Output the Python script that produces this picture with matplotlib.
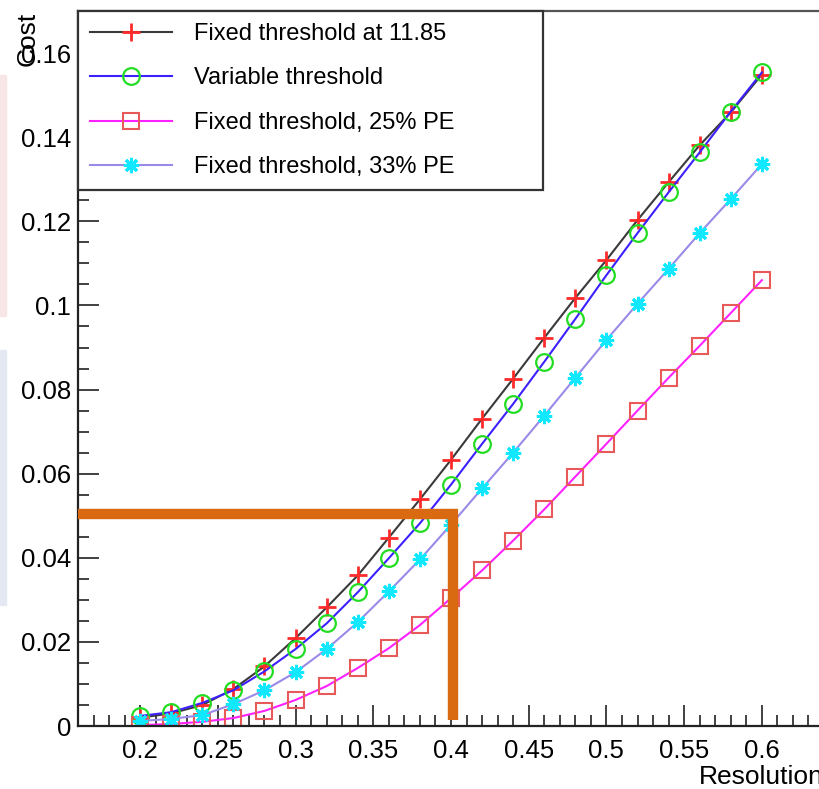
import matplotlib
matplotlib.use("Agg")
import matplotlib.pyplot as plt
from matplotlib.patches import Rectangle
from matplotlib.ticker import MultipleLocator, FuncFormatter

plt.rcParams['font.family'] = ['Liberation Sans', 'DejaVu Sans']

# values
resolution = [0.20, 0.22, 0.24, 0.26, 0.28, 0.30, 0.32, 0.34, 0.36, 0.38, 0.40,
              0.42, 0.44, 0.46, 0.48, 0.50, 0.52, 0.54, 0.56, 0.58, 0.60]
cost_fixed_1185 = [0.0020, 0.0030, 0.0050, 0.0088, 0.0142, 0.0209, 0.0282, 0.0358,
                   0.0448, 0.0539, 0.0633, 0.0731, 0.0826, 0.0923, 0.1018, 0.1108,
                   0.1203, 0.1293, 0.1381, 0.1459, 0.1549]
cost_variable = [0.0024, 0.0033, 0.0055, 0.0085, 0.0130, 0.0183, 0.0244, 0.0318,
                 0.0399, 0.0482, 0.0574, 0.0671, 0.0766, 0.0866, 0.0968, 0.1072,
                 0.1172, 0.1269, 0.1364, 0.1461, 0.1554]
cost_fixed_25pe = [0.0002, 0.0005, 0.0010, 0.0019, 0.0036, 0.0062, 0.0095, 0.0138,
                   0.0185, 0.0240, 0.0304, 0.0370, 0.0441, 0.0515, 0.0593, 0.0671,
                   0.0750, 0.0828, 0.0904, 0.0982, 0.1060]
cost_fixed_33pe = [0.0012, 0.0017, 0.0026, 0.0052, 0.0085, 0.0128, 0.0183, 0.0247,
                   0.0320, 0.0396, 0.0479, 0.0565, 0.0650, 0.0738, 0.0828, 0.0918,
                   0.1004, 0.1087, 0.1172, 0.1253, 0.1336]
labels = ['Fixed threshold at 11.85', 'Variable threshold',
          'Fixed threshold, 25% PE', 'Fixed threshold, 33% PE']
target_cost = 0.0503
target_resolution = 0.401
guide_bottom = 0.0015

fig = plt.figure(figsize=(8.2, 7.89), dpi=100)
# faint slide background showing at the left edge
fig.patches.append(Rectangle((0, 0.60), 0.007, 0.305, transform=fig.transFigure,
                             color='#f8e6e6', zorder=0))
fig.patches.append(Rectangle((0, 0.233), 0.007, 0.323, transform=fig.transFigure,
                             color='#e3e8f2', zorder=0))

ax = fig.add_axes([0.0951, 0.0798, 0.9098, 0.9062])

ax.plot(resolution, cost_fixed_1185, color='#3a3a3a', lw=1.5, marker='+', ms=13,
        mew=2, mec='#ff2a2a', label=labels[0])
ax.plot(resolution, cost_variable, color='#3c20ff', lw=1.5, marker='o', ms=12,
        mew=1.6, mec='#22dd22', mfc='none', label=labels[1])
ax.plot(resolution, cost_fixed_25pe, color='#ff22ff', lw=1.5, marker='s', ms=11,
        mew=1.5, mec='#e85a5a', mfc='none', label=labels[2])
ax.plot(resolution, cost_fixed_33pe, color='#9a8ae8', lw=1.5, marker=(8, 2, 0), ms=11,
        mew=2.2, mec='#10e8ff', label=labels[3])

# hand-drawn orange guide lines
ax.plot([0.16, target_resolution + 0.0035], [target_cost, target_cost],
        color='#da6a12', lw=7.5, solid_capstyle='butt', zorder=5)
ax.plot([target_resolution, target_resolution], [target_cost, guide_bottom],
        color='#da6a12', lw=7.5, solid_capstyle='butt', zorder=5)

ax.set_xlim(0.16, 0.64)
ax.set_ylim(0, 0.17)
ax.set_xticks([0.2, 0.25, 0.3, 0.35, 0.4, 0.45, 0.5, 0.55, 0.6])
ax.set_yticks([0, 0.02, 0.04, 0.06, 0.08, 0.1, 0.12, 0.14, 0.16])
ax.xaxis.set_minor_locator(MultipleLocator(0.01))
ax.yaxis.set_minor_locator(MultipleLocator(0.005))
fmt = FuncFormatter(lambda v, p: '%g' % round(v, 4))
ax.xaxis.set_major_formatter(fmt)
ax.yaxis.set_major_formatter(fmt)
ax.tick_params(which='both', direction='in', labelsize=18.5, width=1.3, color='#333333')
ax.tick_params(which='major', length=15)
ax.tick_params(which='minor', length=8)
ax.tick_params(axis='x', pad=9)
ax.tick_params(axis='y', pad=5)
for side in ['left', 'bottom']:
    ax.spines[side].set_linewidth(1.6)
    ax.spines[side].set_color('#222222')
ax.spines['top'].set_linewidth(1.6)
ax.spines['top'].set_color('#555555')

leg = ax.legend(loc='upper left', bbox_to_anchor=(0, 0, 0.6233, 1), mode='expand',
                borderaxespad=0, fontsize=17, fancybox=False, framealpha=1,
                edgecolor='#333333', handlelength=3.5, handletextpad=0.9,
                labelspacing=0.955, borderpad=0.5)
leg.get_frame().set_linewidth(1.6)
leg.set_zorder(6)

fig.text(0.034, 1 - 12 / 789, 'Cost', rotation=90, ha='center', va='top', fontsize=19)
fig.text(1.004, 1 - 784 / 789, 'Resolution', ha='right', va='baseline', fontsize=19)

fig.savefig('out.png', dpi=100)
